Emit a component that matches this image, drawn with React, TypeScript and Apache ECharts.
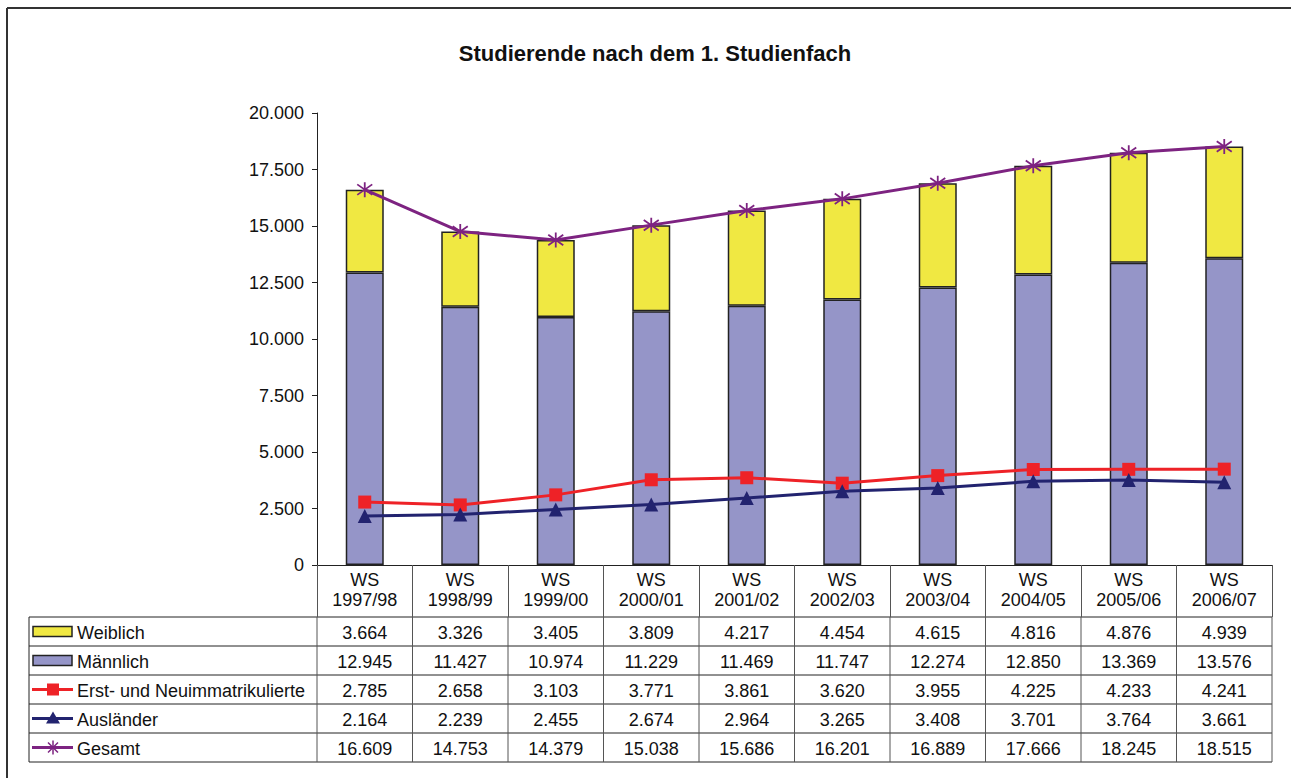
import React, { useEffect, useRef } from "react";
import * as echarts from "echarts";

const years = ["1997/98", "1998/99", "1999/00", "2000/01", "2001/02", "2002/03", "2003/04", "2004/05", "2005/06", "2006/07"];
const weiblich = [3664, 3326, 3405, 3809, 4217, 4454, 4615, 4816, 4876, 4939];
const maennlich = [12945, 11427, 10974, 11229, 11469, 11747, 12274, 12850, 13369, 13576];
const erst = [2785, 2658, 3103, 3771, 3861, 3620, 3955, 4225, 4233, 4241];
const auslaender = [2164, 2239, 2455, 2674, 2964, 3265, 3408, 3701, 3764, 3661];
const gesamt = [16609, 14753, 14379, 15038, 15686, 16201, 16889, 17666, 18245, 18515];

const C_W = "#F0E842";
const C_M = "#9595C8";
const C_R = "#EE2227";
const C_N = "#22236F";
const C_P = "#7D2381";
const FONT = "'Liberation Sans', Arial, sans-serif";
const FS = 18;
const STAR = "path://M10,0L10,20M3,3L17,17M3,17L17,3";

const fmt = (n: number) => String(n).replace(/\B(?=(\d{3})+(?!\d))/g, ".");

export default function App() {
  const ref = useRef<HTMLDivElement>(null);
  useEffect(() => {
    if (!ref.current) return;
    const chart = echarts.init(ref.current, null, { renderer: "svg" });
    const GL = 317, GT = 113, GW = 955, GH = 452;
    const colW = GW / years.length;
    const tableTop = 617, rowH = 29, tableLeft = 29;
    const rows = [
      { name: "Weiblich", data: weiblich, kind: "bar", color: C_W },
      { name: "Männlich", data: maennlich, kind: "bar", color: C_M },
      { name: "Erst- und Neuimmatrikulierte", data: erst, kind: "square", color: C_R },
      { name: "Ausländer", data: auslaender, kind: "triangle", color: C_N },
      { name: "Gesamt", data: gesamt, kind: "star", color: C_P },
    ];
    const graphics: any[] = [];
    graphics.push({ type: "line", shape: { x1: 7, y1: 8, x2: 1291, y2: 8 }, style: { stroke: "#333", lineWidth: 2 }, silent: true });
    graphics.push({ type: "line", shape: { x1: 7, y1: 8, x2: 7, y2: 778 }, style: { stroke: "#333", lineWidth: 2 }, silent: true });
    const tableBottom = tableTop + rowH * rows.length;
    for (let r = 0; r <= rows.length; r++) {
      const y = tableTop + r * rowH;
      graphics.push({ type: "line", shape: { x1: tableLeft, y1: y, x2: GL + GW, y2: y }, style: { stroke: "#222", lineWidth: 1 } });
    }
    graphics.push({ type: "line", shape: { x1: tableLeft, y1: tableTop, x2: tableLeft, y2: tableBottom }, style: { stroke: "#222", lineWidth: 1 } });
    for (let i = 0; i <= years.length; i++) {
      const x = GL + i * colW;
      graphics.push({ type: "line", shape: { x1: x, y1: tableTop, x2: x, y2: tableBottom }, style: { stroke: "#555", lineWidth: 1 } });
    }
    rows.forEach((row, r) => {
      const cy = tableTop + r * rowH + rowH / 2;
      if (row.kind === "bar") {
        graphics.push({ type: "rect", shape: { x: 33, y: cy - 5, width: 39, height: 10 }, style: { fill: row.color, stroke: "#222", lineWidth: 1.5 } });
      } else {
        graphics.push({ type: "line", shape: { x1: 32, y1: cy, x2: 73, y2: cy }, style: { stroke: row.color, lineWidth: 3 } });
        if (row.kind === "square") {
          graphics.push({ type: "rect", shape: { x: 47, y: cy - 6, width: 12, height: 12 }, style: { fill: row.color } });
        } else if (row.kind === "triangle") {
          graphics.push({ type: "polygon", shape: { points: [[53, cy - 7], [46, cy + 5], [60, cy + 5]] }, style: { fill: row.color } });
        } else {
          graphics.push({ type: "line", shape: { x1: 53, y1: cy - 7, x2: 53, y2: cy + 7 }, style: { stroke: row.color, lineWidth: 1.5 } });
          graphics.push({ type: "line", shape: { x1: 48, y1: cy - 5, x2: 58, y2: cy + 5 }, style: { stroke: row.color, lineWidth: 1.5 } });
          graphics.push({ type: "line", shape: { x1: 48, y1: cy + 5, x2: 58, y2: cy - 5 }, style: { stroke: row.color, lineWidth: 1.5 } });
        }
      }
      graphics.push({ type: "text", x: 77, y: cy + 1, style: { text: row.name, font: `${FS}px ${FONT}`, fill: "#111", textAlign: "left", textVerticalAlign: "middle" } });
      row.data.forEach((v, i) => {
        graphics.push({ type: "text", x: GL + (i + 0.5) * colW, y: cy + 1, style: { text: fmt(v), font: `${FS}px ${FONT}`, fill: "#111", textAlign: "center", textVerticalAlign: "middle" } });
      });
    });

    chart.setOption({
      animation: false,
      backgroundColor: "#fff",
      title: {
        text: "Studierende nach dem 1. Studienfach",
        left: 650,
        top: 37,
        textAlign: "center",
        textStyle: { fontFamily: FONT, fontSize: 22, fontWeight: "bold", color: "#111" },
      },
      grid: { left: GL, top: GT, width: GW, height: GH, containLabel: false },
      xAxis: {
        type: "category",
        data: years,
        axisLine: { lineStyle: { color: "#222", width: 1 } },
        axisTick: { show: true, length: 52, lineStyle: { color: "#555" } },
        axisLabel: {
          formatter: (v: string) => "WS\n" + v,
          fontFamily: FONT,
          fontSize: FS,
          lineHeight: 20,
          color: "#111",
          margin: 5,
          interval: 0,
        },
      },
      yAxis: {
        type: "value",
        min: 0,
        max: 20000,
        interval: 2500,
        axisLine: { show: true, lineStyle: { color: "#222", width: 1 } },
        axisTick: { show: true, length: 5, lineStyle: { color: "#222" } },
        splitLine: { show: false },
        axisLabel: { formatter: (v: number) => fmt(v), fontFamily: FONT, fontSize: FS, color: "#111", margin: 13 },
      },
      series: [
        { name: "Männlich", type: "bar", stack: "s", data: maennlich, barWidth: 38, itemStyle: { color: C_M, borderColor: "#222", borderWidth: 1.5 } },
        { name: "Weiblich", type: "bar", stack: "s", data: weiblich, barWidth: 38, itemStyle: { color: C_W, borderColor: "#222", borderWidth: 1.5 } },
        { name: "Erst- und Neuimmatrikulierte", type: "line", data: erst, symbol: "rect", symbolSize: 13, z: 5, lineStyle: { color: C_R, width: 3 }, itemStyle: { color: C_R } },
        { name: "Ausländer", type: "line", data: auslaender, symbol: "triangle", symbolSize: 14, z: 5, lineStyle: { color: C_N, width: 3 }, itemStyle: { color: C_N } },
        { name: "Gesamt", type: "line", data: gesamt, symbol: STAR, symbolSize: 15, z: 5, lineStyle: { color: C_P, width: 3 }, itemStyle: { color: C_P, borderColor: C_P, borderWidth: 1.8 } },
      ],
      graphic: graphics,
    });
    return () => chart.dispose();
  }, []);
  return <div ref={ref} style={{ position: "absolute", left: 0, top: 0, width: 1291, height: 778 }} />;
}
